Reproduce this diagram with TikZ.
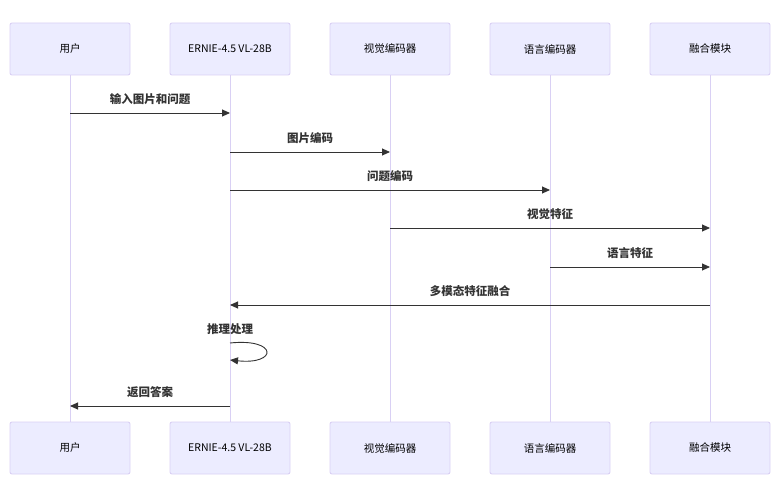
\documentclass[tikz,border=0pt]{standalone}
\usepackage{fontspec}
\setmainfont{Noto Sans CJK SC}
\usepackage{tikz}
\usetikzlibrary{positioning}
\usetikzlibrary{arrows.meta}

\definecolor{actorfill}{HTML}{ECECFF}
\definecolor{actorline}{HTML}{D9D0F4}
\definecolor{msgcolor}{HTML}{333333}

\begin{document}
\begin{tikzpicture}
				[x=1pt, y=-1pt,
				actor/.style={rectangle, draw=actorline, fill=actorfill, line width=0.9pt, rounded corners=2pt, minimum width=120pt, minimum height=52pt, font=\fontsize{10.5}{12}\selectfont, text=black, node distance=399pt},
				lifeline/.style={draw=actorline, line width=1pt},
				msg/.style={draw=msgcolor, line width=0.9pt, -{Triangle[length=8pt, width=7pt]}},
				msglabel/.style={font=\fontsize{11.5}{13}\selectfont\bfseries, text=msgcolor, inner sep=0pt}]
				\useasboundingbox (0,0) rectangle (776,478);
				\node[actor] (user) at (70,49) {用户};
				\node[actor] (ernie) at (230,49) {ERNIE-4.5 VL-28B};
				\node[actor] (vis) at (390,49) {视觉编码器};
				\node[actor] (lang) at (550,49) {语言编码器};
				\node[actor] (fuse) at (710,49) {融合模块};
				\node[actor, below=of user.center, anchor=center] (userb) {用户};
				\node[actor, below=of ernie.center, anchor=center] (ernieb) {ERNIE-4.5 VL-28B};
				\node[actor, below=of vis.center, anchor=center] (visb) {视觉编码器};
				\node[actor, below=of lang.center, anchor=center] (langb) {语言编码器};
				\node[actor, below=of fuse.center, anchor=center] (fuseb) {融合模块};
				\foreach \a/\b in {user/userb, ernie/ernieb, vis/visb, lang/langb, fuse/fuseb}
					\draw[lifeline] (\a) -- (\b);
				\draw[msg] (user |- 0,113) to node[msglabel, above=8pt] {输入图片和问题} (ernie |- 0,113);
				\draw[msg] (ernie |- 0,152) to node[msglabel, above=8pt] {图片编码} (vis |- 0,152);
				\draw[msg] (ernie |- 0,190) to node[msglabel, above=8pt] {问题编码} (lang |- 0,190);
				\draw[msg] (vis |- 0,228) to node[msglabel, above=8pt] {视觉特征} (fuse |- 0,228);
				\draw[msg] (lang |- 0,267) to node[msglabel, above=8pt] {语言特征} (fuse |- 0,267);
				\draw[msg] (fuse |- 0,305) to node[msglabel, above=8pt] {多模态特征融合} (ernie |- 0,305);
				\node[msglabel] (loop) at (230,329) {推理处理};
				\draw[msg] (ernie |- 0,343) .. controls (278,338) and (278,365) .. (ernie |- 0,360);
				\draw[msg] (ernie |- 0,406) to node[msglabel, above=8pt] {返回答案} (user |- 0,406);
			\end{tikzpicture}
\end{document}
